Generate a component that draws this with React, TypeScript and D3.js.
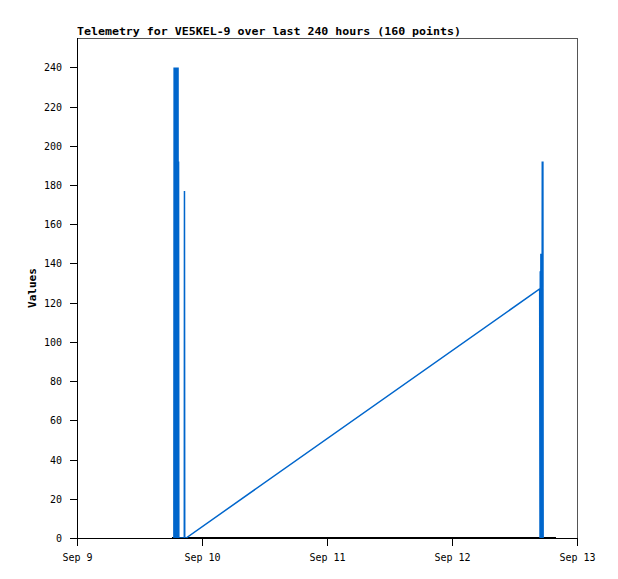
import React from "react";
import * as d3 from "d3";

const blueTimes = [
  "2023-09-09T18:36", "2023-09-09T18:39", "2023-09-09T18:45", "2023-09-09T18:51",
  "2023-09-09T18:57", "2023-09-09T19:03", "2023-09-09T19:09", "2023-09-09T19:15",
  "2023-09-09T19:21", "2023-09-09T19:24", "2023-09-09T19:27", "2023-09-09T19:30",
  "2023-09-09T19:33", "2023-09-09T20:36", "2023-09-09T20:38", "2023-09-09T20:41",
  "2023-09-09T20:57",
  "2023-09-12T16:50", "2023-09-12T16:54", "2023-09-12T16:57", "2023-09-12T17:00",
  "2023-09-12T17:04", "2023-09-12T17:08", "2023-09-12T17:12", "2023-09-12T17:16",
  "2023-09-12T17:20", "2023-09-12T17:24", "2023-09-12T17:27", "2023-09-12T17:30",
];
const blueValues = [
  0, 240, 0, 240,
  0, 240, 0, 240,
  0, 240, 0, 192,
  0, 0, 177, 0,
  0,
  127, 0, 136, 0,
  145, 0, 145, 0,
  192, 0, 192, 0,
];

const blackTimes = ["2023-09-09T18:14", "2023-09-09T20:57", "2023-09-12T16:50", "2023-09-12T19:58"];
const blackValues = [0, 0, 0, 0];

const xTickDates = ["2023-09-09T00:00", "2023-09-10T00:00", "2023-09-11T00:00", "2023-09-12T00:00", "2023-09-13T00:00"];
const yTickValues = [0, 20, 40, 60, 80, 100, 120, 140, 160, 180, 200, 220, 240];

const title = "Telemetry for VE5KEL-9 over last 240 hours (160 points)";
const yLabel = "Values";

const W = 618, H = 579;
const L = 77, R = 577, T = 38, B = 538;
const FONT = "'DejaVu Sans Mono', monospace";

export default function App() {
  const x = d3.scaleTime()
    .domain([new Date(xTickDates[0]), new Date(xTickDates[xTickDates.length - 1])])
    .range([L, R]);
  const y = d3.scaleLinear().domain([0, 255]).range([B, T]);

  const line = d3.line<[Date, number]>()
    .x((d) => x(d[0]))
    .y((d) => y(d[1]));

  const blue: [Date, number][] = blueTimes.map((t, i) => [new Date(t), blueValues[i]]);
  const black: [Date, number][] = blackTimes.map((t, i) => [new Date(t), blackValues[i]]);
  const fmt = d3.timeFormat("%b %-d");

  return (
    <div style={{ position: "absolute", left: 0, top: 0 }}>
      <svg width={W} height={H} style={{ display: "block", background: "#fff" }}>
        <rect x={0} y={0} width={W} height={H} fill="#fff" />
        <text x={L} y={35} fontFamily={FONT} fontSize={11} fontWeight="bold" textLength={384} lengthAdjust="spacingAndGlyphs" fill="#000">{title}</text>
        {/* frame */}
        <line x1={L} y1={T + 0.5} x2={R + 0.5} y2={T + 0.5} stroke="#555" strokeWidth={1} shapeRendering="crispEdges" />
        <line x1={R + 0.5} y1={T} x2={R + 0.5} y2={B} stroke="#555" strokeWidth={1} shapeRendering="crispEdges" />
        {/* data */}
        <path d={line(black) || ""} fill="none" stroke="#000" strokeWidth={2} />
        <path d={line(blue) || ""} fill="none" stroke="#0066cc" strokeWidth={1.5} strokeLinejoin="miter" />
        {/* axes */}
        <line x1={L + 0.5} y1={T} x2={L + 0.5} y2={B + 0.5} stroke="#000" strokeWidth={1} shapeRendering="crispEdges" />
        <line x1={L} y1={B + 0.5} x2={R + 1} y2={B + 0.5} stroke="#000" strokeWidth={1} shapeRendering="crispEdges" />
        {yTickValues.map((v) => (
          <g key={v}>
            <line x1={L - 7} x2={L} y1={Math.round(y(v)) + 0.5} y2={Math.round(y(v)) + 0.5} stroke="#000" shapeRendering="crispEdges" />
            <text x={62} y={Math.round(y(v)) + 4} textAnchor="end" fontFamily={FONT} fontSize={10} fill="#000">{v}</text>
          </g>
        ))}
        {xTickDates.map((t) => {
          const px = Math.round(x(new Date(t))) + 0.5;
          return (
            <g key={t}>
              <line x1={px} x2={px} y1={B} y2={B + 8} stroke="#000" shapeRendering="crispEdges" />
              <text x={px} y={561} textAnchor="middle" fontFamily={FONT} fontSize={10} fill="#000">{fmt(new Date(t))}</text>
            </g>
          );
        })}
        <text transform={`translate(36,288) rotate(-90)`} textAnchor="middle" fontFamily={FONT} fontSize={11} fontWeight="bold" fill="#000">{yLabel}</text>
      </svg>
    </div>
  );
}
